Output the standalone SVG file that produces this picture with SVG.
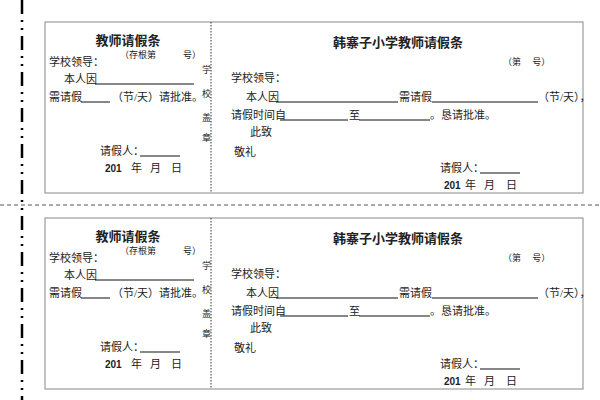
<svg xmlns="http://www.w3.org/2000/svg" xmlns:xlink="http://www.w3.org/1999/xlink" width="600" height="400" viewBox="0 0 600 400">
<style>
text{font-family:"Liberation Serif","Noto Sans CJK SC",serif;font-size:11px;fill:#222}
.t{font-weight:bold;font-size:13px;text-anchor:middle}
.s{font-size:9px}
.b{font-weight:bold;font-size:10px;font-family:"Liberation Sans","Noto Sans CJK SC",sans-serif}
.u{stroke:#111;stroke-width:1}
.box{fill:none;stroke:#888;stroke-width:1}
</style>
<defs>
<g id="form">
<rect class="box" x="45" y="22" width="538" height="171"/>
<line x1="211" y1="22" x2="211" y2="193" stroke="#333" stroke-dasharray="1.5,1.5"/>
<text class="t" x="128" y="45">教师请假条</text>
<text class="s" x="120" y="58">（存根第　　　号）</text>
<text x="49" y="66">学校领导：</text>
<text x="64" y="83">本人因</text>
<line class="u" x1="95" y1="84" x2="194" y2="84"/>
<text x="49" y="101">需请假</text>
<line class="u" x1="81" y1="102" x2="110" y2="102"/>
<text x="112" y="101">（节/天）请批准。</text>
<text x="100" y="155">请假人：</text>
<line class="u" x1="140" y1="156" x2="180" y2="156"/>
<text class="b" x="105" y="172">201</text>
<text x="131" y="172">年</text><text x="150" y="172">月</text><text x="171" y="172">日</text>
<text class="s" x="202" y="73">学</text><text class="s" x="202" y="97">校</text>
<text class="s" x="202" y="121">盖</text><text class="s" x="202" y="141">章</text>
<text class="t" x="398" y="47">韩寨子小学教师请假条</text>
<text class="s" x="503" y="65">（第　 号）</text>
<text x="231" y="82">学校领导：</text>
<text x="246" y="101">本人因</text>
<line class="u" x1="276" y1="102" x2="398" y2="102"/>
<text x="399" y="101">需请假</text>
<line class="u" x1="432" y1="102" x2="538" y2="102"/>
<text x="538" y="101">（节/天），</text>
<text x="231" y="119">请假时间自</text>
<line class="u" x1="280" y1="120" x2="348" y2="120"/>
<text x="349" y="119">至</text>
<line class="u" x1="359" y1="120" x2="430" y2="120"/>
<text x="430" y="119">。恳请批准。</text>
<text x="250" y="136">此致</text>
<text x="234" y="156">敬礼</text>
<text x="440" y="172">请假人：</text>
<line class="u" x1="480" y1="173" x2="520" y2="173"/>
<text class="b" x="444" y="189">201</text>
<text x="465" y="189">年</text><text x="484" y="189">月</text><text x="506" y="189">日</text>
</g>
</defs>
<rect width="600" height="400" fill="#fff"/>
<g id="form1"><use xlink:href="#form"/></g>
<g id="form2"><use xlink:href="#form" y="196"/></g>
<g id="connectors">
<line x1="0" y1="205" x2="600" y2="205" stroke="#555" stroke-dasharray="4,3"/>
<line x1="22" y1="0" x2="22" y2="400" stroke="#000" stroke-width="2.5" stroke-dasharray="14,6,2,6,2,6"/>
</g>
</svg>
